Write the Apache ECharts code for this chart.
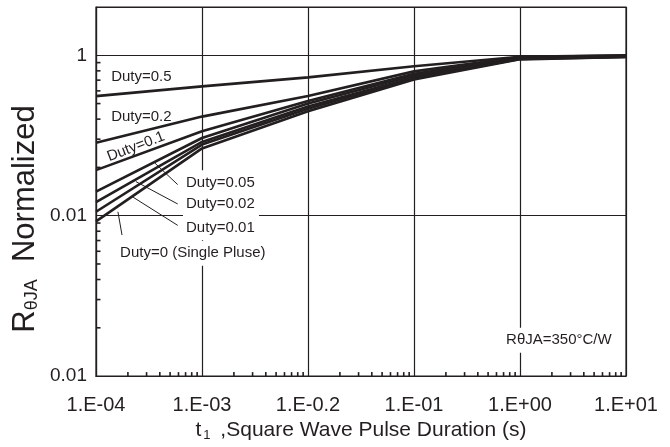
<!DOCTYPE html>
<html><head><meta charset="utf-8">
<script src="https://cdn.jsdelivr.net/npm/echarts@6/dist/echarts.min.js"></script>
<style>html,body{margin:0;padding:0;background:#fff}#c{width:670px;height:447px}</style>
</head><body><div id="c"></div>
<script>
// ---- data ----
const pulseDuration = [1e-4, 1e-3, 1e-2, 1e-1, 1, 10];
const duty05  = [0.31,   0.41,  0.53,  0.73, 0.96, 1.00];
const duty02  = [0.081,  0.172, 0.31,  0.63, 0.95, 0.99];
const duty01  = [0.037,  0.113, 0.27,  0.59, 0.93, 0.98];
const duty005 = [0.020,  0.093, 0.25,  0.56, 0.92, 0.97];
const duty002 = [0.0148, 0.083, 0.23,  0.53, 0.91, 0.96];
const duty001 = [0.0112, 0.077, 0.215, 0.52, 0.90, 0.955];
const duty0   = [0.0085, 0.069, 0.20,  0.50, 0.89, 0.95];
const seriesNames = ['Duty=0.5','Duty=0.2','Duty=0.1','Duty=0.05','Duty=0.02','Duty=0.01','Duty=0 (Single Pluse)'];
const seriesValues = [duty05, duty02, duty01, duty005, duty002, duty001, duty0];
const xTickValues = [1e-4, 1e-3, 1e-2, 1e-1, 1, 10];
const xTickLabels = ['1.E-04','1.E-03','1.E-0.2','1.E-01','1.E+00','1.E+01'];
const yTickValues = [1e-4, 1e-2, 1];
const yTickLabels = ['0.01','0.01','1'];

const INK = '#231f20';
const FONT = '"Liberation Sans", Arial, sans-serif';
const X_MIN = 1e-4, X_MAX = 10, Y_MIN = 1e-4, Y_MAX = 4;

function labelFor(v, vals, labs) {
  for (let i = 0; i < vals.length; i++) {
    if (Math.abs(Math.log10(v) - Math.log10(vals[i])) < 1e-6) return labs[i];
  }
  return '';
}

// minor tick positions (axis decoration)
const xMinor = [];
for (let e = -4; e < 1; e++) for (let k = 2; k <= 9; k++) xMinor.push([k * Math.pow(10, e), Y_MIN]);
const yMinor = [];
for (let e = -4; e <= 0; e += 2) for (let k = 2; k <= 9; k++) {
  const v = k * k * Math.pow(10, e);
  if (v < Y_MAX) yMinor.push([X_MIN, v]);
}

const chart = echarts.init(document.getElementById('c'), null, {renderer: 'canvas'});

const lineSeries = seriesNames.map((name, i) => ({
  name, type: 'line', symbol: 'none', silent: true, z: 3,
  lineStyle: {color: INK, width: 2.6},
  data: pulseDuration.map((t, j) => [t, seriesValues[i][j]])
}));

chart.setOption({
  animation: false,
  backgroundColor: '#fff',
  grid: {left: 96, right: 44, top: 7, bottom: 60, show: true, borderColor: INK, borderWidth: 1.2, containLabel: false},
  xAxis: {
    type: 'log', logBase: 10, min: X_MIN, max: X_MAX, interval: 1,
    axisLine: {show: true, lineStyle: {color: INK, width: 1.2}},
    axisTick: {show: false},
    splitLine: {show: true, lineStyle: {color: INK, width: 1.2}},
    axisLabel: {color: INK, fontFamily: FONT, fontSize: 20, margin: 19,
      formatter: v => labelFor(v, xTickValues, xTickLabels)},
    name: '{t|t}{s|1}{n| ,Square Wave Pulse Duration (s)}',
    nameLocation: 'middle', nameGap: 39,
    nameTextStyle: {color: INK, fontFamily: FONT, fontSize: 21,
      rich: {t: {fontSize: 21, fontFamily: FONT, color: INK},
             s: {fontSize: 13, fontFamily: FONT, color: INK, verticalAlign: 'bottom', padding: [10, 4, 0, 2]},
             n: {fontSize: 21, fontFamily: FONT, color: INK}}}
  },
  yAxis: {
    type: 'log', logBase: 10, min: Y_MIN, max: Y_MAX, interval: 2,
    axisLine: {show: true, lineStyle: {color: INK, width: 1.2}},
    axisTick: {show: false},
    splitLine: {show: true, lineStyle: {color: INK, width: 1.2}},
    axisLabel: {color: INK, fontFamily: FONT, fontSize: 19, margin: 9,
      formatter: v => labelFor(v, yTickValues, yTickLabels)}
  },
  series: lineSeries.concat([
    {type: 'custom', silent: true, z: 2, data: xMinor,
      renderItem: (params, api) => {
        const p = api.coord([api.value(0), api.value(1)]);
        return {type: 'line', shape: {x1: p[0], y1: p[1], x2: p[0], y2: p[1] - 4}, style: {stroke: INK, lineWidth: 1.6}};
      }},
    {type: 'custom', silent: true, z: 2, data: yMinor,
      renderItem: (params, api) => {
        const p = api.coord([api.value(0), api.value(1)]);
        return {type: 'line', shape: {x1: p[0], y1: p[1], x2: p[0] + 4.5, y2: p[1]}, style: {stroke: INK, lineWidth: 1.6}};
      }}
  ])
});

// ---- annotations anchored in data space ----
const labels = [
  {text: 'Duty=0.5', at: [1.39e-4, 0.541], align: 'left'},
  {text: 'Duty=0.2', at: [1.39e-4, 0.172], align: 'left'},
  {text: 'Duty=0.1', at: [2.38e-4, 0.0726], align: 'center', rot: 21},
  {text: 'Duty=0.05', at: [6.62e-4, 0.0258], align: 'left', bg: true},
  {text: 'Duty=0.02', at: [6.62e-4, 0.01397], align: 'left', bg: true},
  {text: 'Duty=0.01', at: [6.62e-4, 0.0071], align: 'left', bg: true},
  {text: 'Duty=0 (Single Pluse)', at: [1.58e-4, 0.0034], align: 'left', bg: true},
  {text: 'R\u03b8JA=350\u00b0C/W', at: [0.692, 2.8e-4], align: 'left', bg: true}
];
const leaders = [
  [[3.6e-4, 0.0452], [5.9e-4, 0.0244]],
  [[2.38e-4, 0.0266], [5.9e-4, 0.0140]],
  [[2.24e-4, 0.0170], [5.9e-4, 0.00757]],
  [[1.61e-4, 0.01118], [1.76e-4, 0.00573]]
];
const px = v => chart.convertToPixel({gridIndex: 0}, v);
const graphics = [];
leaders.forEach(l => {
  const a = px(l[0]), b = px(l[1]);
  graphics.push({type: 'line', z: 50, shape: {x1: a[0], y1: a[1], x2: b[0], y2: b[1]}, style: {stroke: INK, lineWidth: 1}});
});
labels.forEach(l => {
  const p = px(l.at);
  graphics.push({type: 'text', z: 60, x: p[0], y: p[1],
    rotation: l.rot ? l.rot * Math.PI / 180 : 0,
    style: {text: l.text, fill: INK, font: '15px ' + FONT, align: l.align, verticalAlign: 'middle',
      backgroundColor: l.bg ? '#fff' : null, padding: l.bg ? [5, 4, 5, 3] : 0}});
});
// y-axis title
graphics.push({type: 'text', z: 60, x: 25, y: 219, rotation: Math.PI / 2,
  style: {text: '{r|R}{s|\u03b8JA}{n|  Normalized}', align: 'center', verticalAlign: 'middle', fill: INK,
    rich: {r: {fontSize: 31, fontFamily: FONT, fill: INK},
           s: {fontSize: 18, fontFamily: FONT, fill: INK, verticalAlign: 'bottom', padding: [15, 0, 0, 0]},
           n: {fontSize: 31, fontFamily: FONT, fill: INK}}}});
chart.setOption({graphic: graphics});
</script></body></html>
